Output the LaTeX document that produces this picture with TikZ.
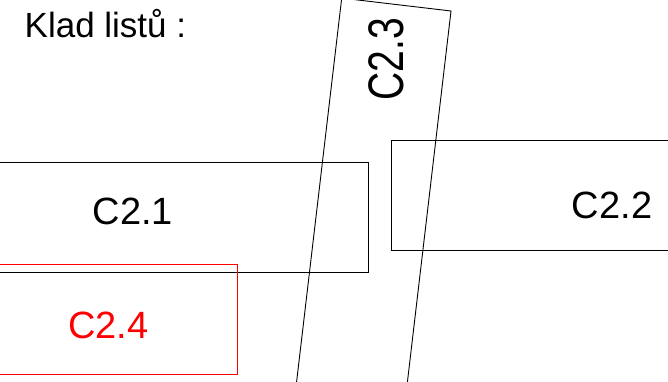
\documentclass[tikz,border=0pt]{standalone}
\usepackage{fontspec}
\setmainfont{Liberation Sans}
\newcommand{\bigtext}{\fontsize{38}{40}\selectfont}
\tikzset{
  plate/.style={draw=black, line width=0.9pt},
  redplate/.style={draw=red, line width=0.9pt},
  platelabel/.style={anchor=base, inner sep=0pt, font=\bigtext}
}
\begin{document}
\begin{tikzpicture}[x=1pt,y=-1pt]
\useasboundingbox (0,0) rectangle (668,382);
\clip (0,0) rectangle (668,382);

\node[anchor=base west, inner sep=0pt, font=\fontsize{35}{38}\selectfont] (title) at (24.5,38) {Klad listů :};

% listy
\draw[plate]  (-102,162) rectangle (368,272);
\draw[plate]  (391,140) rectangle (833,250);
\draw[redplate]  (-20,264) rectangle (237,374);

\coordinate (a) at (341.7,-1.9);
\coordinate (b) at (451,11);
\coordinate (c) at (402,428);
\coordinate (d) at (292.7,415);
\draw[plate] (a) -- (b) -- (c) -- (d) -- cycle;

\node[platelabel] (c21) at (133,224) {C2.1};
\node[platelabel] (c22) at (612,218) {C2.2};
\node[platelabel, rotate=90, font=\fontsize{50}{52}\selectfont] (c23) at (403,59) {\scalebox{0.78}[1]{C2.3}};
\node[platelabel, text=red] (c24) at (108.5,338) {C2.4};

\end{tikzpicture}
\end{document}
